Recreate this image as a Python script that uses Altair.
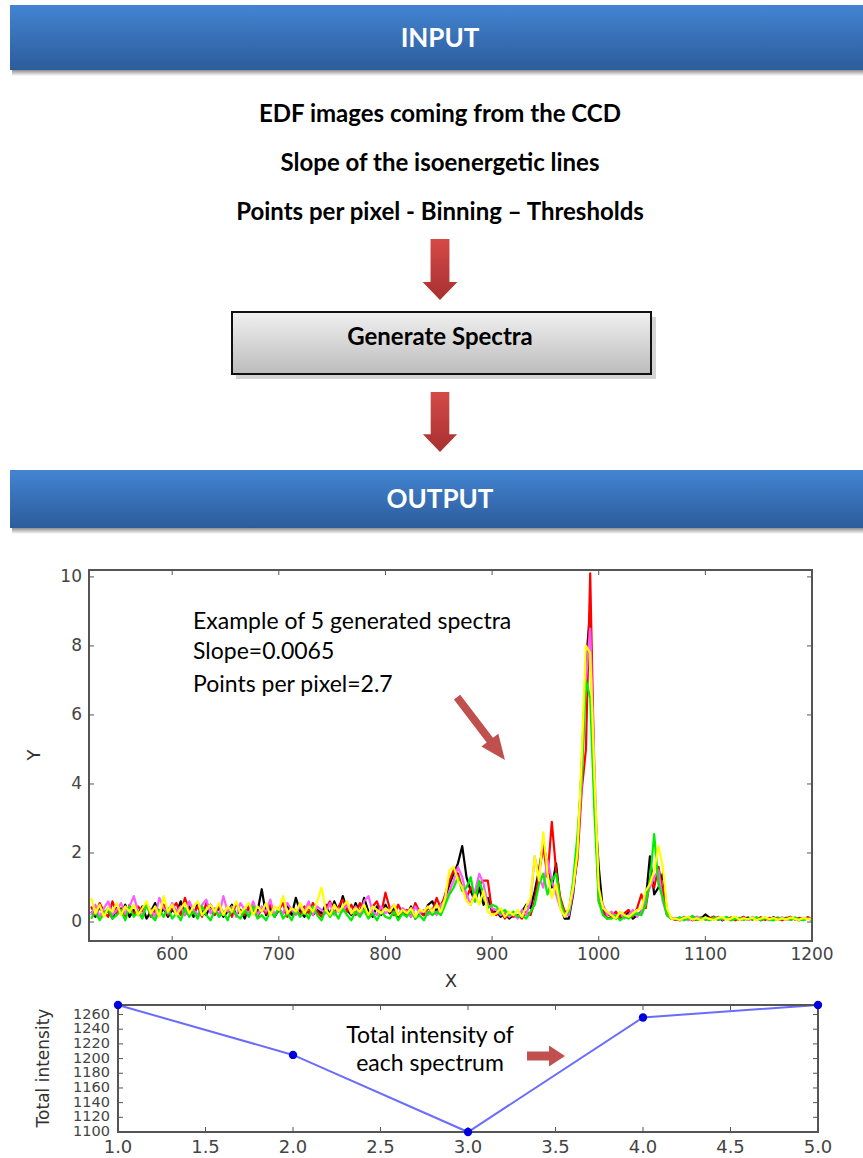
import altair as alt
import pandas as pd

W, H = 863, 1158

# plot rectangles of the two panels (pixels)
SP_LEFT, SP_RIGHT, SP_TOP, SP_BOTTOM = 89, 812, 570, 941
TI_LEFT, TI_RIGHT, TI_TOP, TI_BOTTOM = 118, 818, 1005, 1132

# ---------------- spectra ----------------
channel = list(range(524, 1201, 4))  # 170 samples along X

black = [
    0.3, 0.15, 0.45, 0.2, 0.35, 0.1, 0.4, 0.25, 0.5, 0.15,
    0.35, 0.2, 0.45, 0.1, 0.3, 0.55, 0.2, 0.4, 0.15, 0.35,
    0.25, 0.6, 0.2, 0.45, 0.15, 0.55, 0.3, 0.2, 0.5, 0.25,
    0.4, 0.15, 0.3, 0.5, 0.2, 0.35, 0.1, 0.45, 0.25, 0.3,
    0.95, 0.2, 0.4, 0.15, 0.35, 0.25, 0.5, 0.2, 0.7, 0.3,
    0.15, 0.45, 0.2, 0.35, 0.25, 0.5, 0.2, 0.6, 0.3, 0.75,
    0.35, 0.2, 0.55, 0.25, 0.7, 0.3, 0.15, 0.45, 0.2, 0.5,
    0.25, 0.4, 0.15, 0.35, 0.2, 0.45, 0.1, 0.3, 0.2, 0.5,
    0.6, 0.3, 0.5, 0.7, 1.1, 1.4, 1.7, 2.2, 1.3, 0.9, 0.6, 1.0, 0.5, 0.7, 0.3,
    0.3, 0.15, 0.25, 0.1, 0.2, 0.15, 0.3, 0.5,
    0.4, 0.9, 1.5, 2.3, 1.6, 1.0, 1.7, 0.5, 0.1,
    0.1, 0.8, 2.0, 4.5, 7.5, 9.0, 3.5, 1.6, 0.3, 0.2,
    0.25, 0.1, 0.2, 0.15, 0.3, 0.1, 0.2,
    0.3, 0.6, 1.9, 0.8, 1.0, 1.4, 0.3, 0.1,
    0.1, 0.05, 0.15, 0.08, 0.12, 0.06, 0.1, 0.22, 0.12, 0.08, 0.15, 0.05, 0.12,
    0.09, 0.14, 0.06, 0.1, 0.13, 0.07, 0.12, 0.05, 0.11, 0.08, 0.14, 0.06, 0.1,
    0.12, 0.07, 0.11, 0.05, 0.09, 0.12, 0.07,
]
red = [
    0.45, 0.2, 0.55, 0.3, 0.15, 0.6, 0.25, 0.4, 0.1, 0.5,
    0.2, 0.45, 0.3, 0.55, 0.15, 0.35, 0.25, 0.5, 0.2, 0.4,
    0.55, 0.2, 0.7, 0.3, 0.25, 0.45, 0.15, 0.55, 0.3, 0.2,
    0.5, 0.25, 0.4, 0.15, 0.55, 0.3, 0.2, 0.45, 0.35, 0.15,
    0.4, 0.25, 0.5, 0.2, 0.35, 0.55, 0.15, 0.4, 0.3, 0.2,
    0.45, 0.25, 0.55, 0.3, 0.15, 0.4, 0.6, 0.25, 0.45, 0.65,
    0.3, 0.5, 0.2, 0.55, 0.35, 0.15, 0.45, 0.6, 0.25, 0.85,
    0.4, 0.2, 0.5, 0.25, 0.35, 0.15, 0.55, 0.3, 0.2, 0.4,
    0.3, 0.7, 0.4, 0.8, 1.2, 1.5, 1.4, 1.0, 0.7, 1.0, 0.8, 1.1, 1.2, 1.2, 0.3,
    0.2, 0.35, 0.1, 0.25, 0.15, 0.2, 0.1, 0.3,
    0.2, 0.6, 1.4, 2.2, 1.3, 2.9, 1.5, 0.7, 0.3,
    0.3, 1.0, 1.8, 3.8, 5.0, 10.1, 4.0, 0.6, 0.3, 0.1,
    0.15, 0.3, 0.1, 0.25, 0.35, 0.15, 0.4,
    0.8, 0.4, 1.2, 1.0, 1.6, 0.9, 0.2, 0.1,
    0.06, 0.12, 0.08, 0.15, 0.05, 0.1, 0.14, 0.07, 0.11, 0.16, 0.06, 0.12, 0.08,
    0.13, 0.05, 0.1, 0.15, 0.06, 0.11, 0.08, 0.14, 0.06, 0.12, 0.09, 0.13, 0.05,
    0.11, 0.15, 0.07, 0.12, 0.08, 0.14, 0.1,
]
magenta = [
    0.2, 0.5, 0.15, 0.4, 0.6, 0.2, 0.35, 0.55, 0.25, 0.45,
    0.75, 0.3, 0.2, 0.5, 0.35, 0.15, 0.7, 0.4, 0.25, 0.55,
    0.3, 0.45, 0.2, 0.6, 0.35, 0.2, 0.5, 0.65, 0.25, 0.4,
    0.2, 0.75, 0.3, 0.45, 0.15, 0.55, 0.35, 0.25, 0.6, 0.2,
    0.45, 0.3, 0.65, 0.2, 0.4, 0.25, 0.55, 0.35, 0.2, 0.5,
    0.3, 0.6, 0.2, 0.45, 0.35, 0.25, 0.55, 0.2, 0.4, 0.3,
    0.5, 0.25, 0.45, 0.2, 0.6, 0.75, 0.3, 0.2, 0.45, 0.25,
    0.35, 0.5, 0.2, 0.4, 0.3, 0.15, 0.45, 0.25, 0.35, 0.2,
    0.4, 0.2, 0.5, 0.6, 0.9, 1.2, 1.6, 1.3, 0.8, 0.5, 0.9, 1.4, 1.1, 0.5, 0.4,
    0.35, 0.2, 0.3, 0.15, 0.25, 0.1, 0.35, 0.2,
    0.6, 1.9, 1.3, 1.0, 1.8, 1.2, 0.8, 0.4, 0.2,
    0.2, 0.9, 2.2, 4.0, 7.0, 8.5, 4.5, 0.7, 0.5, 0.2,
    0.3, 0.15, 0.25, 0.1, 0.2, 0.35, 0.15,
    0.3, 0.7, 1.0, 1.3, 1.5, 0.6, 0.2, 0.1,
    0.12, 0.07, 0.14, 0.05, 0.11, 0.16, 0.08, 0.12, 0.06, 0.1, 0.14, 0.07, 0.11,
    0.05, 0.13, 0.08, 0.12, 0.06, 0.15, 0.09, 0.07, 0.13, 0.05, 0.11, 0.08, 0.14,
    0.06, 0.1, 0.13, 0.07, 0.12, 0.09, 0.11,
]
green = [
    0.1, 0.3, 0.05, 0.25, 0.4, 0.1, 0.2, 0.35, 0.05, 0.45,
    0.15, 0.3, 0.1, 0.5, 0.2, 0.05, 0.35, 0.15, 0.4, 0.1,
    0.25, 0.05, 0.4, 0.15, 0.3, 0.1, 0.45, 0.2, 0.05, 0.35,
    0.15, 0.3, 0.05, 0.4, 0.2, 0.1, 0.35, 0.15, 0.45, 0.1,
    0.2, 0.05, 0.3, 0.15, 0.4, 0.1, 0.25, 0.05, 0.35, 0.15,
    0.3, 0.1, 0.45, 0.2, 0.05, 0.35, 0.15, 0.3, 0.1, 0.4,
    0.2, 0.05, 0.3, 0.15, 0.35, 0.1, 0.25, 0.05, 0.3, 0.15,
    0.1, 0.3, 0.05, 0.25, 0.15, 0.35, 0.1, 0.2, 0.05, 0.3,
    0.2, 0.3, 0.2, 0.5, 0.8, 1.0, 1.3, 0.9, 1.0, 1.3, 0.6, 1.2, 0.8, 0.4, 0.5,
    0.45, 0.25, 0.35, 0.2, 0.3, 0.15, 0.2, 0.1,
    0.3, 0.5, 1.1, 1.4, 0.8, 1.2, 1.4, 0.6, 0.2,
    0.3, 1.2, 2.5, 4.2, 7.0, 6.5, 3.2, 0.6, 0.2, 0.1,
    0.1, 0.2, 0.05, 0.15, 0.1, 0.2, 0.25,
    0.2, 0.5, 1.2, 2.55, 1.1, 0.7, 0.2, 0.1,
    0.08, 0.14, 0.05, 0.1, 0.18, 0.06, 0.12, 0.08, 0.05, 0.13, 0.07, 0.1, 0.15,
    0.05, 0.09, 0.12, 0.06, 0.1, 0.08, 0.14, 0.06, 0.11, 0.07, 0.05, 0.12, 0.08,
    0.1, 0.06, 0.13, 0.08, 0.05, 0.1, 0.07,
]
yellow = [
    0.7, 0.25, 0.5, 0.15, 0.4, 0.3, 0.55, 0.2, 0.45, 0.3,
    0.5, 0.2, 0.4, 0.6, 0.25, 0.45, 0.15, 0.75, 0.3, 0.5,
    0.2, 0.4, 0.55, 0.25, 0.45, 0.6, 0.2, 0.35, 0.5, 0.3,
    0.55, 0.2, 0.45, 0.3, 0.6, 0.25, 0.4, 0.55, 0.2, 0.45,
    0.3, 0.55, 0.2, 0.45, 0.35, 0.75, 0.25, 0.4, 0.3, 0.55,
    0.25, 0.45, 0.3, 0.6, 1.0, 0.35, 0.2, 0.5, 0.3, 0.45,
    0.6, 0.25, 0.4, 0.3, 0.5, 0.2, 0.45, 0.35, 0.25, 0.4,
    0.3, 0.5, 0.2, 0.35, 0.25, 0.4, 0.15, 0.35, 0.3, 0.45,
    0.3, 0.5, 0.3, 0.7, 1.5, 1.6, 1.2, 1.0, 0.6, 0.5, 0.8, 0.5, 0.9, 0.3, 0.2,
    0.25, 0.4, 0.15, 0.3, 0.2, 0.35, 0.15, 0.45,
    0.7, 1.9, 1.2, 2.6, 1.4, 0.7, 1.1, 0.4, 0.15,
    0.4, 1.0, 2.0, 4.8, 8.0, 7.8, 4.2, 1.0, 0.4, 0.3,
    0.2, 0.1, 0.3, 0.2, 0.15, 0.25, 0.35,
    0.4, 0.9, 1.1, 1.5, 2.2, 1.6, 0.4, 0.1,
    0.1, 0.06, 0.12, 0.15, 0.07, 0.11, 0.05, 0.13, 0.09, 0.06, 0.12, 0.14, 0.07,
    0.1, 0.16, 0.06, 0.11, 0.08, 0.13, 0.05, 0.1, 0.14, 0.08, 0.12, 0.06, 0.11,
    0.07, 0.13, 0.09, 0.06, 0.12, 0.08, 0.1,
]

trace_names = ["black", "red", "magenta", "green", "yellow"]
trace_colors = ["#000000", "#ff0000", "#ff5cff", "#00ee00", "#ffff00"]
traces = [black, red, magenta, green, yellow]

x_ticks = [600, 700, 800, 900, 1000, 1100, 1200]
y_ticks = [0, 2, 4, 6, 8, 10]

# ---------------- total intensity ----------------
spectrum_no = [1, 2, 3, 4, 5]
total_intensity = [1273, 1205, 1100, 1256, 1273]
ti_x_ticks = [1.0, 1.5, 2.0, 2.5, 3.0, 3.5, 4.0, 4.5, 5.0]
ti_y_ticks = [1100, 1120, 1140, 1160, 1180, 1200, 1220, 1240, 1260]

# ---------------- text ----------------
input_lines = [
    "EDF images coming from the CCD",
    "Slope of the isoenergetic lines",
    "Points per pixel - Binning \u2013 Thresholds",
]
note_lines = ["Example of 5 generated spectra", "Slope=0.0065", "Points per pixel=2.7"]
ti_note_lines = ["Total intensity of", "each spectrum"]

TEXT_FONT = "Lato"
AXIS_FONT = "DejaVu Sans"
AXIS_COLOR = "#444444"
FRAME_COLOR = "#555555"

one = pd.DataFrame({"k": [0]})


def grad(top, bottom):
    return alt.Gradient(
        gradient="linear",
        stops=[alt.GradientStop(color=top, offset=0), alt.GradientStop(color=bottom, offset=1)],
        x1=0, x2=0, y1=0, y2=1,
    )


def box(x0, x1, y0, y1, **mark):
    return alt.Chart(one).mark_rect(**mark).encode(
        x=alt.value(x0), x2=alt.value(x1), y=alt.value(y0), y2=alt.value(y1)
    )


def label(txt, x, y, size, weight="normal", color="#000000", align="center", font=TEXT_FONT, angle=0):
    return alt.Chart(one).mark_text(
        font=font, fontSize=size, fontWeight=weight, color=color, align=align, baseline="middle",
        angle=angle,
    ).encode(x=alt.value(x), y=alt.value(y), text=alt.value(txt))


DOWN_ARROW = "M-0.31,-1L0.31,-1L0.31,0.41L0.57,0.41L0,1L-0.57,0.41L-0.31,0.41Z"
RIGHT_ARROW_THIN = "M-1,-0.1L0.37,-0.1L0.37,-0.27L1,0L0.37,0.27L0.37,0.1L-1,0.1Z"
RIGHT_ARROW_THICK = "M-1,-0.24L0.16,-0.24L0.16,-0.55L1,0L0.16,0.55L0.16,0.24L-1,0.24Z"


def arrow(shape, x, y, length, fill, angle=0):
    return alt.Chart(one).mark_point(
        shape=shape, filled=True, fill=fill, opacity=1, strokeWidth=0, size=length * length, angle=angle
    ).encode(x=alt.value(x), y=alt.value(y))


def banner(y0, y1, title):
    return [
        box(12, W, y1, y1 + 6, fill=grad("#8f8f8f", "#ffffff")),
        box(10, W + 10, y0, y1, fill=grad("#4384d2", "#2c5c9b")),
        label(title, 440, (y0 + y1) / 2 + 1, 26, "bold", "#ffffff"),
    ]


def panel_guides(sx, sy, xt_vals, xt_text, yt_vals, yt_text, left, right, top, bottom,
                 x_label_y, y_label_x, x_size, y_size):
    """Frame, inward ticks and tick labels of one matplotlib-style panel."""
    xdf = pd.DataFrame({"t": xt_vals, "s": xt_text})
    ydf = pd.DataFrame({"t": yt_vals, "s": yt_text})
    X = alt.X("t:Q", scale=sx, axis=None)
    Y = alt.Y("t:Q", scale=sy, axis=None)
    tick = dict(color=FRAME_COLOR, strokeWidth=1)
    return [
        alt.Chart(xdf).mark_rule(**tick).encode(x=X, y=alt.value(bottom), y2=alt.value(bottom - 5)),
        alt.Chart(xdf).mark_rule(**tick).encode(x=X, y=alt.value(top), y2=alt.value(top + 5)),
        alt.Chart(ydf).mark_rule(**tick).encode(y=Y, x=alt.value(left), x2=alt.value(left + 5)),
        alt.Chart(ydf).mark_rule(**tick).encode(y=Y, x=alt.value(right), x2=alt.value(right - 5)),
        alt.Chart(xdf).mark_text(align="center", baseline="middle", font=AXIS_FONT,
                                 fontSize=x_size, color=AXIS_COLOR).encode(
            x=X, y=alt.value(x_label_y), text="s:N"),
        alt.Chart(ydf).mark_text(align="right", baseline="middle", font=AXIS_FONT,
                                 fontSize=y_size, color=AXIS_COLOR).encode(
            y=Y, x=alt.value(y_label_x), text="s:N"),
        box(left, right, top, bottom, fillOpacity=0, stroke=FRAME_COLOR, strokeWidth=2),
    ]


decor = []
decor += banner(5, 70, "INPUT")
for i, line in enumerate(input_lines):
    decor.append(label(line, 440, 115 + 49 * i, 24, "bold"))
decor.append(arrow(DOWN_ARROW, 440, 269.5, 61, grad("#d44a48", "#a83030")))
decor.append(box(236, 656, 317, 379, fill="#b8b8b8", opacity=0.6))
decor.append(box(232, 651, 312, 374, fill=grad("#f0f0f0", "#bcbcbc"), stroke="#111111", strokeWidth=2))
decor.append(label("Generate Spectra", 440, 338, 24, "bold"))
decor.append(arrow(DOWN_ARROW, 440, 422, 60, grad("#d44a48", "#a83030")))
decor += banner(470, 528, "OUTPUT")

# ---------------- spectra panel ----------------
sx = alt.Scale(domain=[522, 1200], range=[SP_LEFT, SP_RIGHT], nice=False, zero=False)
sy = alt.Scale(domain=[-0.55, 10.2], range=[SP_BOTTOM, SP_TOP], nice=False, zero=False)

spec_df = pd.DataFrame({
    "x": channel * len(traces),
    "y": sum(traces, []),
    "trace": sum([[n] * len(channel) for n in trace_names], []),
})

spec_layers = [
    alt.Chart(spec_df).transform_filter(alt.datum.trace == name)
    .mark_line(color=col, strokeWidth=2.2, strokeJoin="round")
    .encode(x=alt.X("x:Q", scale=sx, axis=None), y=alt.Y("y:Q", scale=sy, axis=None))
    for name, col in zip(trace_names, trace_colors)
]
spec_guides = panel_guides(
    sx, sy, x_ticks, [str(v) for v in x_ticks], y_ticks, [str(v) for v in y_ticks],
    SP_LEFT, SP_RIGHT, SP_TOP, SP_BOTTOM, x_label_y=955, y_label_x=82, x_size=17, y_size=17,
)
spectra = alt.layer(*spec_layers, *spec_guides)

# ---------------- total intensity panel ----------------
tx = alt.Scale(domain=[1, 5], range=[TI_LEFT, TI_RIGHT], nice=False, zero=False)
ty = alt.Scale(domain=[1100, 1273], range=[TI_BOTTOM, TI_TOP], nice=False, zero=False)
ti_df = pd.DataFrame({"n": spectrum_no, "total": total_intensity})

ti_line = alt.Chart(ti_df).mark_line(color="#6b6bff", strokeWidth=2).encode(
    x=alt.X("n:Q", scale=tx, axis=None), y=alt.Y("total:Q", scale=ty, axis=None))
ti_pts = alt.Chart(ti_df).mark_point(filled=True, color="#0000dd", opacity=1, size=70).encode(
    x=alt.X("n:Q", scale=tx, axis=None), y=alt.Y("total:Q", scale=ty, axis=None))
ti_guides = panel_guides(
    tx, ty, ti_x_ticks, [f"{v:.1f}" for v in ti_x_ticks], ti_y_ticks, [str(v) for v in ti_y_ticks],
    TI_LEFT, TI_RIGHT, TI_TOP, TI_BOTTOM, x_label_y=1148, y_label_x=110, x_size=18, y_size=14.5,
)
intensity = alt.layer(ti_line, *ti_guides, ti_pts)

# ---------------- axis titles and annotations ----------------
notes = [
    label("Y", 35, 755, 18, color="#333333", font=AXIS_FONT, angle=270),
    label("X", 451, 982, 18, color="#333333", font=AXIS_FONT),
    label("Total intensity", 44, 1068, 17, color="#333333", font=AXIS_FONT, angle=270),
]
for i, line in enumerate(note_lines):
    notes.append(label(line, 193, 622 + [0, 30, 63][i], 23, "normal", align="left"))
notes.append(arrow(RIGHT_ARROW_THIN, 481, 728.5, 79, "#c0504d", angle=52.7))
notes.append(label(ti_note_lines[0], 430, 1036, 23))
notes.append(label(ti_note_lines[1], 430, 1064, 23))
notes.append(arrow(RIGHT_ARROW_THICK, 546, 1056, 38, "#c0504d"))

chart = (
    alt.layer(*decor, spectra, intensity, *notes)
    .resolve_scale(x="independent", y="independent")
    .properties(width=W, height=H, padding=0, autosize=alt.AutoSizeParams(type="none"), background="#ffffff")
    .configure_view(strokeWidth=0)
)

chart.save("out.html", embed_options={"renderer": "svg", "actions": False})
